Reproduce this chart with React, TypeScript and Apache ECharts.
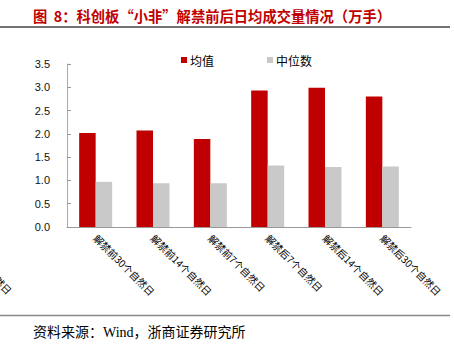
import React, { useEffect, useRef } from "react";
import * as echarts from "echarts";

const categories = [
  "解禁前30个自然日",
  "解禁前14个自然日",
  "解禁前7个自然日",
  "解禁后7个自然日",
  "解禁后14个自然日",
  "解禁后30个自然日",
];
const meanValues = [2.02, 2.07, 1.89, 2.93, 2.99, 2.8];
const medianValues = [0.97, 0.94, 0.94, 1.32, 1.29, 1.3];
const seriesNames = ["均值", "中位数"];
const titleText = "图  8：科创板“小非”解禁前后日均成交量情况（万手）";
const sourceText = "资料来源：Wind，浙商证券研究所";
const clippedFragment = "自然日";

const CJK = '"Noto Sans CJK SC", "Noto Sans", sans-serif';
const SANS = 'Arial, "Liberation Sans", "Noto Sans CJK SC", sans-serif';
const SERIF = '"Liberation Serif", "DejaVu Serif", "Noto Sans CJK SC", serif';

export default function App() {
  const ref = useRef<HTMLDivElement>(null);
  useEffect(() => {
    document.body.style.margin = "0";
    if (!ref.current) return;
    const chart = echarts.init(ref.current, undefined, { renderer: "svg" });
    chart.setOption({
      animation: false,
      backgroundColor: "#ffffff",
      legend: {
        data: seriesNames,
        left: 176,
        top: 49,
        itemWidth: 6,
        itemHeight: 6,
        itemGap: 53,
        icon: "rect",
        textStyle: { fontSize: 12, color: "#000", fontFamily: CJK, padding: [0, 0, 0, -2] },
      },
      grid: { left: 67, right: 43, top: 64, bottom: 126, containLabel: false },
      xAxis: {
        type: "category",
        data: categories,
        axisLine: { lineStyle: { color: "#999", width: 1 } },
        axisTick: { inside: true, length: 3, lineStyle: { color: "#777" } },
        axisLabel: {
          rotate: -45,
          interval: 0,
          fontSize: 10,
          color: "#000",
          margin: 9,
          fontFamily: CJK,
        },
      },
      yAxis: {
        type: "value",
        min: 0,
        max: 3.5,
        interval: 0.5,
        axisLine: { show: true, lineStyle: { color: "#aaa", width: 1 } },
        axisTick: { show: true, inside: true, length: 4, lineStyle: { color: "#999" } },
        splitLine: { show: false },
        axisLabel: {
          fontSize: 11,
          color: "#111",
          margin: 17,
          fontFamily: SANS,
          formatter: (v: number) => v.toFixed(1),
        },
      },
      series: [
        {
          name: seriesNames[0],
          type: "bar",
          data: meanValues,
          barWidth: 16.5,
          barGap: "0%",
          itemStyle: { color: "#C00000" },
        },
        {
          name: seriesNames[1],
          type: "bar",
          data: medianValues,
          barWidth: 16.5,
          barGap: "0%",
          itemStyle: { color: "#C9C9C9" },
        },
      ],
      graphic: [
        {
          type: "text",
          x: 33,
          y: 15,
          style: {
            text: titleText,
            fontSize: 14.3,
            fontWeight: "bold",
            fill: "#C00000",
            fontFamily: CJK,
            verticalAlign: "middle",
          },
        },
        {
          type: "line",
          shape: { x1: 0, y1: 27, x2: 450, y2: 27 },
          style: { stroke: "#444", lineWidth: 1.5 },
        },
        {
          type: "line",
          shape: { x1: 0, y1: 315.5, x2: 450, y2: 315.5 },
          style: { stroke: "#888", lineWidth: 1.5 },
        },
        {
          type: "text",
          x: 33,
          y: 332,
          style: {
            text: sourceText,
            fontSize: 14,
            fill: "#000",
            fontFamily: SERIF,
            verticalAlign: "middle",
          },
        },
        {
          type: "text",
          x: -11,
          y: 271,
          rotation: -Math.PI / 4,
          style: {
            text: clippedFragment,
            fontSize: 10,
            fill: "#000",
            fontFamily: CJK,
            align: "left",
            verticalAlign: "middle",
          },
        },
      ],
    });
    return () => chart.dispose();
  }, []);
  return <div ref={ref} style={{ width: 454, height: 353 }} />;
}
